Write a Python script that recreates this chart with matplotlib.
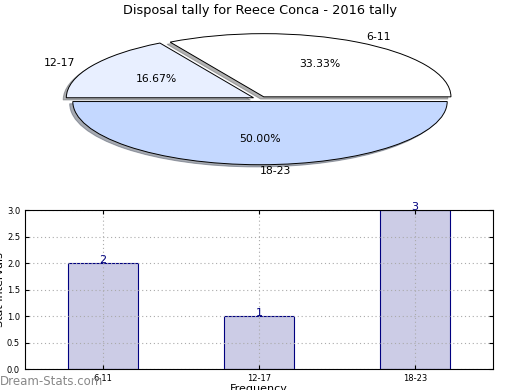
import matplotlib
matplotlib.use("Agg")
import matplotlib.pyplot as plt

title = "Disposal tally for Reece Conca - 2016 tally"
categories = ["6-11", "12-17", "18-23"]
values = [2, 1, 3]
pie_colors = ["#ffffff", "#e8efff", "#c4d8ff"]
bar_color = "#ccccE6"
bar_edge = "#000080"

fig = plt.figure(figsize=(5.2, 3.9), dpi=100)

# Pie
axp = fig.add_axes([0.050, 0.5436, 0.900, 0.405])
wedges, texts, autotexts = axp.pie(values, labels=categories, colors=pie_colors,
                                   autopct="%.2f%%", explode=[0.04] * 3,
                                   shadow=dict(ox=-0.012, oy=-0.025, shade=0.6),
                                   startangle=0, counterclock=True,
                                   wedgeprops=dict(edgecolor="black", linewidth=0.7),
                                   textprops=dict(fontsize=7.8))
axp.set_aspect("auto")
axp.set_xlim(-1.25, 1.25)
axp.set_ylim(-1.25, 1.25)
fig.text(0.5, 0.972, title, ha="center", va="center", fontsize=9.3)

# Bars
axb = fig.add_axes([0.048, 0.0538, 0.9, 0.4077])
x = list(range(len(categories)))
bars = axb.bar(x, values, width=0.45, color=bar_color, edgecolor=bar_edge, linewidth=0.8)
for xi, v in zip(x, values):
    axb.text(xi, v - 0.03, str(v), ha="center", va="bottom", color=bar_edge, fontsize=8)
axb.set_xlim(-0.5, 2.5)
axb.set_ylim(0, 3.0)
axb.set_xticks(x)
axb.set_xticklabels(categories)
axb.set_yticks([0.0, 0.5, 1.0, 1.5, 2.0, 2.5, 3.0])
axb.set_yticklabels(["0.0", "0.5", "1.0", "1.5", "2.0", "2.5", "3.0"])
axb.tick_params(labelsize=6, direction="in", top=True, right=True, length=3)
axb.grid(True, linestyle=(0, (1, 2.5)), color="#aaaaaa", linewidth=0.8)
axb.set_axisbelow("line")
for s in axb.spines.values():
    s.set_zorder(3)
axb.set_xlabel("Frequency", fontsize=8, labelpad=1)
axb.set_ylabel("Stat Intervals", fontsize=8, labelpad=1)

fig.text(0.0, 0.023, "Dream-Stats.com", ha="left", va="center", fontsize=8.5,
         color="#888888")

fig.savefig("out.png", dpi=100)
